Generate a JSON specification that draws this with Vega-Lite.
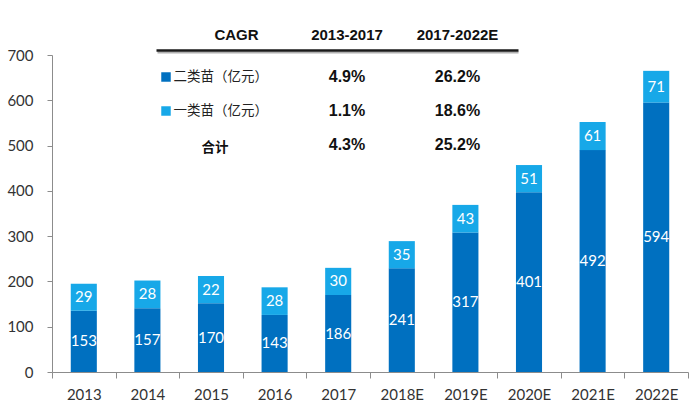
{
  "$schema": "https://vega.github.io/schema/vega-lite/v6.json",
  "width": 636,
  "height": 317,
  "autosize": {"type": "none"},
  "padding": {"left": 52, "top": 55, "right": 3, "bottom": 38},
  "background": "white",
  "config": {"view": {"stroke": null}},
  "datasets": {
    "bars": [
      {"year": "2013", "series": "二类苗", "value": 135, "label": "153"},
      {"year": "2013", "series": "一类苗", "value": 60, "label": "29"},
      {"year": "2014", "series": "二类苗", "value": 141, "label": "157"},
      {"year": "2014", "series": "一类苗", "value": 61, "label": "28"},
      {"year": "2015", "series": "二类苗", "value": 152, "label": "170"},
      {"year": "2015", "series": "一类苗", "value": 60, "label": "22"},
      {"year": "2016", "series": "二类苗", "value": 126, "label": "143"},
      {"year": "2016", "series": "一类苗", "value": 61, "label": "28"},
      {"year": "2017", "series": "二类苗", "value": 170, "label": "186"},
      {"year": "2017", "series": "一类苗", "value": 60, "label": "30"},
      {"year": "2018E", "series": "二类苗", "value": 229, "label": "241"},
      {"year": "2018E", "series": "一类苗", "value": 60, "label": "35"},
      {"year": "2019E", "series": "二类苗", "value": 308, "label": "317"},
      {"year": "2019E", "series": "一类苗", "value": 61, "label": "43"},
      {"year": "2020E", "series": "二类苗", "value": 397, "label": "401"},
      {"year": "2020E", "series": "一类苗", "value": 60, "label": "51"},
      {"year": "2021E", "series": "二类苗", "value": 490, "label": "492"},
      {"year": "2021E", "series": "一类苗", "value": 62, "label": "61"},
      {"year": "2022E", "series": "二类苗", "value": 595, "label": "594"},
      {"year": "2022E", "series": "一类苗", "value": 70, "label": "71"}
    ],
    "table": [
      {"row": "header", "col": "项目", "text": "CAGR"},
      {"row": "header", "col": "2013-2017", "text": "2013-2017"},
      {"row": "header", "col": "2017-2022E", "text": "2017-2022E"},
      {"row": "二类苗", "col": "项目", "text": "二类苗（亿元）"},
      {"row": "二类苗", "col": "2013-2017", "text": "4.9%"},
      {"row": "二类苗", "col": "2017-2022E", "text": "26.2%"},
      {"row": "一类苗", "col": "项目", "text": "一类苗（亿元）"},
      {"row": "一类苗", "col": "2013-2017", "text": "1.1%"},
      {"row": "一类苗", "col": "2017-2022E", "text": "18.6%"},
      {"row": "合计", "col": "项目", "text": "合计"},
      {"row": "合计", "col": "2013-2017", "text": "4.3%"},
      {"row": "合计", "col": "2017-2022E", "text": "25.2%"}
    ]
  },
  "layer": [
    {
      "data": {"name": "bars"},
      "layer": [
        {
          "mark": {"type": "bar", "width": {"band": 0.41}},
          "encoding": {
            "x": {
              "field": "year", "type": "nominal", "sort": null,
              "scale": {"paddingInner": 0, "paddingOuter": 0},
              "axis": {
                "title": null, "labelAngle": 0, "tickBand": "extent", "tickSize": 6,
                "labelPadding": 9, "domainColor": "#8c8c8c", "tickColor": "#8c8c8c",
                "labelFont": "Lato", "labelFontSize": 15, "labelColor": "#333333"
              }
            },
            "y": {
              "field": "value", "type": "quantitative", "stack": "zero",
              "scale": {"domain": [0, 700], "nice": false},
              "axis": {
                "title": null, "values": [0, 100, 200, 300, 400, 500, 600, 700], "grid": false,
                "tickSize": 5, "labelPadding": 14, "domainColor": "#8c8c8c", "tickColor": "#8c8c8c",
                "labelFont": "Lato", "labelFontSize": 15, "labelColor": "#333333"
              }
            },
            "color": {
              "field": "series", "type": "nominal",
              "scale": {"domain": ["二类苗", "一类苗"], "range": ["#0070C0", "#17A8E8"]},
              "legend": null
            },
            "order": {"field": "series", "sort": "descending"}
          }
        },
        {
          "mark": {"type": "text", "color": "white", "font": "Lato", "fontSize": 15, "baseline": "middle"},
          "encoding": {
            "x": {"field": "year", "type": "nominal", "sort": null},
            "y": {"field": "value", "type": "quantitative", "stack": "zero", "bandPosition": 0.5},
            "detail": {"field": "series"},
            "order": {"field": "series", "sort": "descending"},
            "text": {"field": "label"}
          }
        }
      ]
    },
    {
      "data": {"name": "table"},
      "encoding": {
        "x": {
          "field": "col", "type": "nominal",
          "scale": {"type": "point", "domain": ["项目", "2013-2017", "2017-2022E"], "range": [184.5, 405.5], "padding": 0},
          "axis": null
        },
        "y": {
          "field": "row", "type": "nominal",
          "scale": {"type": "point", "domain": ["header", "二类苗", "一类苗", "合计"], "range": [0, 102], "padding": 0},
          "axis": null
        }
      },
      "layer": [
        {
          "transform": [{"filter": "datum.row === 'header'"}],
          "mark": {"type": "text", "font": "Liberation Sans", "fontWeight": "bold", "fontSize": 15, "color": "#111111", "baseline": "middle", "dy": -20},
          "encoding": {"text": {"field": "text"}}
        },
        {
          "transform": [{"filter": "datum.row !== 'header' && datum.col !== '项目'"}],
          "mark": {"type": "text", "font": "Liberation Sans", "fontWeight": "bold", "fontSize": 16, "color": "#111111", "baseline": "middle", "dy": -12},
          "encoding": {"text": {"field": "text"}}
        },
        {
          "transform": [{"filter": "datum.col === '项目' && (datum.row === '二类苗' || datum.row === '一类苗')"}],
          "mark": {"type": "text", "font": "Noto Sans CJK SC", "fontSize": 13.5, "color": "#222222", "align": "left", "baseline": "middle", "dx": -63, "dy": -12},
          "encoding": {"text": {"field": "text"}}
        },
        {
          "transform": [{"filter": "datum.col === '项目' && datum.row === '合计'"}],
          "mark": {"type": "text", "font": "Noto Sans CJK SC", "fontWeight": "bold", "fontSize": 13.5, "color": "#111111", "baseline": "middle", "dx": -21.5, "dy": -9},
          "encoding": {"text": {"field": "text"}}
        },
        {
          "transform": [{"filter": "datum.col === '项目' && (datum.row === '二类苗' || datum.row === '一类苗')"}],
          "mark": {"type": "point", "shape": "square", "filled": true, "size": 90, "opacity": 1, "xOffset": -70.5, "yOffset": -12},
          "encoding": {"color": {"field": "row", "type": "nominal", "legend": null}}
        },
        {
          "data": {"values": [{}]},
          "mark": {"type": "rule", "color": "#b0b0b0", "strokeWidth": 2, "xOffset": -79, "x2Offset": 61, "yOffset": -2.5},
          "encoding": {
            "x": {"datum": "项目", "type": "nominal"},
            "x2": {"datum": "2017-2022E"},
            "y": {"datum": "header", "type": "nominal"}
          }
        },
        {
          "data": {"values": [{}]},
          "mark": {"type": "rule", "color": "#1a1a1a", "strokeWidth": 2.5, "xOffset": -80, "x2Offset": 61, "yOffset": -4.5},
          "encoding": {
            "x": {"datum": "项目", "type": "nominal"},
            "x2": {"datum": "2017-2022E"},
            "y": {"datum": "header", "type": "nominal"}
          }
        }
      ]
    }
  ],
  "resolve": {"scale": {"x": "independent", "y": "independent"}}
}
